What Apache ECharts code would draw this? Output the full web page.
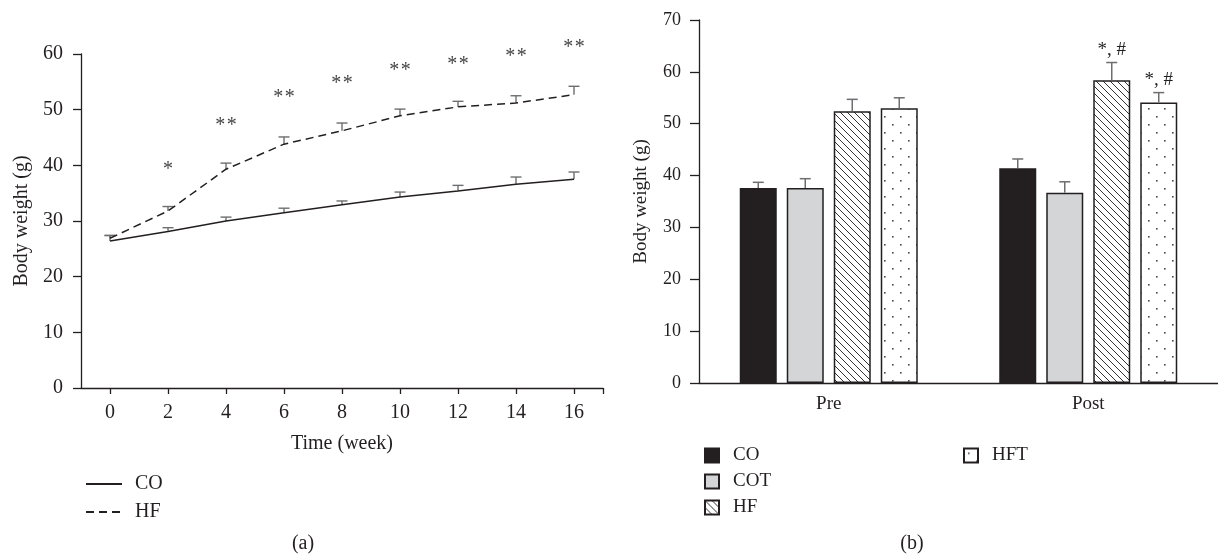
<!DOCTYPE html>
<html><head><meta charset="utf-8">
<script src="https://cdn.jsdelivr.net/npm/echarts@6/dist/echarts.min.js"></script>
<style>html,body{margin:0;padding:0;background:#fff}#c{width:1218px;height:556px}</style>
</head><body><div id="c"></div>
<script>
// ---- Panel (a) data ----
const weeks = [0, 2, 4, 6, 8, 10, 12, 14, 16];
const coMean = [26.4, 28.1, 30.0, 31.5, 32.9, 34.3, 35.4, 36.6, 37.5];
const coErr  = [1.0, 0.7, 0.7, 0.8, 0.7, 0.9, 1.0, 1.3, 1.3];
const hfMean = [26.9, 31.8, 39.3, 43.8, 46.2, 48.9, 50.5, 51.2, 52.7];
const hfErr  = [0.5, 0.8, 1.1, 1.3, 1.4, 1.2, 1.0, 1.3, 1.5];
const sigY    = [null, 40.0, 47.8, 52.8, 55.3, 57.7, 58.7, 60.3, 61.9];
const sigText = ['', '*', '**', '**', '**', '**', '**', '**', '**'];
const xTickLabels = [0, 2, 4, 6, 8, 10, 12, 14, 16];

// ---- Panel (b) data ----
const phases = ['Pre', 'Post'];
const groupNames = ['CO', 'COT', 'HF', 'HFT'];
const barCO  = [37.6, 41.4];
const barCOT = [37.6, 36.7];
const barHF  = [52.4, 58.4];
const barHFT = [53.0, 54.1];
const errCO  = [1.1, 1.8];
const errCOT = [1.8, 2.1];
const errHF  = [2.3, 3.4];
const errHFT = [2.0, 1.9];
const noteCO  = ['', ''];
const noteCOT = ['', ''];
const noteHF  = ['', '*, #'];
const noteHFT = ['', '*, #'];

const INK = '#231f20';
const ERR = '#6d6e71';
const FONT = '"Liberation Serif", "DejaVu Serif", serif';
const BAR_W = 37, BAR_GAP = 10;

function hatchPattern() {
  const c = document.createElement('canvas'); c.width = 7; c.height = 7;
  const g = c.getContext('2d');
  g.fillStyle = '#fff'; g.fillRect(0, 0, 7, 7);
  g.strokeStyle = '#333'; g.lineWidth = 1;
  g.beginPath();
  g.moveTo(-1, -1); g.lineTo(8, 8);
  g.moveTo(-8, -1); g.lineTo(1, 8);
  g.moveTo(6, -1); g.lineTo(15, 8);
  g.stroke();
  return { image: c, repeat: 'repeat' };
}
function dotPattern() {
  const c = document.createElement('canvas'); c.width = 16; c.height = 16;
  const g = c.getContext('2d');
  g.fillStyle = '#fff'; g.fillRect(0, 0, 16, 16);
  g.fillStyle = '#4a4a4a';
  g.fillRect(4, 4, 1.6, 1.6);
  g.fillRect(12, 12, 1.6, 1.6);
  return { image: c, repeat: 'repeat' };
}

const chart = echarts.init(document.getElementById('c'), null, { renderer: 'canvas' });

function lineErr(name, mean, err) {
  return {
    type: 'custom', name: name + '_err', xAxisIndex: 0, yAxisIndex: 0, z: 1, silent: true,
    data: weeks.map((w, i) => [w, mean[i], err[i]]),
    renderItem: (params, api) => {
      const x = api.value(0), m = api.value(1), e = api.value(2);
      const p0 = api.coord([x, m]), p1 = api.coord([x, m + e]);
      const st = { stroke: ERR, lineWidth: 1.4 };
      return { type: 'group', children: [
        { type: 'line', shape: { x1: p0[0], y1: p0[1], x2: p1[0], y2: p1[1] }, style: st },
        { type: 'line', shape: { x1: p1[0] - 5.5, y1: p1[1], x2: p1[0] + 5.5, y2: p1[1] }, style: st }
      ] };
    }
  };
}

function barErr(gi, mean, err, notes) {
  return {
    type: 'custom', name: groupNames[gi] + '_err', xAxisIndex: 1, yAxisIndex: 1, z: 3, silent: true,
    data: phases.map((p, i) => [i, mean[i], err[i], i]),
    renderItem: (params, api) => {
      const c = api.value(0), m = api.value(1), e = api.value(2), k = api.value(3);
      const off = (gi - 1.5) * (BAR_W + BAR_GAP);
      const p0 = api.coord([c, m]), p1 = api.coord([c, m + e]);
      const x = p0[0] + off;
      const st = { stroke: ERR, lineWidth: 1.5 };
      const ch = [
        { type: 'line', shape: { x1: x, y1: p0[1], x2: x, y2: p1[1] }, style: st },
        { type: 'line', shape: { x1: x - 5.5, y1: p1[1], x2: x + 5.5, y2: p1[1] }, style: st }
      ];
      if (notes[k]) ch.push({ type: 'text', x: x, y: p1[1] - 3,
        style: { text: notes[k], align: 'center', verticalAlign: 'bottom', font: '19px ' + FONT, fill: INK } });
      return { type: 'group', children: ch };
    }
  };
}

const barStyle = (fill) => ({ color: fill, borderColor: INK, borderWidth: 1.5 });
const gapPct = (BAR_GAP / BAR_W * 100) + '%';

const option = {
  animation: false,
  backgroundColor: '#fff',
  textStyle: { fontFamily: FONT, color: INK },
  grid: [
    { left: 81, top: 54, width: 522, height: 334 },
    { left: 699, top: 20, width: 519, height: 363 }
  ],
  xAxis: [
    { type: 'value', gridIndex: 0, min: -1, max: 17,
      name: 'Time (week)', nameLocation: 'middle', nameGap: 46,
      nameTextStyle: { fontSize: 20, fontFamily: FONT, color: INK },
      splitLine: { show: false },
      axisLine: { onZero: false, lineStyle: { color: INK, width: 1.3 } },
      axisTick: { customValues: [0, 2, 4, 6, 8, 10, 12, 14, 16, 17], length: 6, lineStyle: { color: INK, width: 1.3 } },
      axisLabel: { customValues: xTickLabels, fontSize: 20, fontFamily: FONT, color: INK, margin: 15 } },
    { type: 'category', gridIndex: 1, data: phases, boundaryGap: true,
      splitLine: { show: false },
      axisLine: { onZero: false, lineStyle: { color: INK, width: 1.3 } },
      axisTick: { length: 6, alignWithLabel: false, lineStyle: { color: INK, width: 1.3 } },
      axisLabel: { fontSize: 19, fontFamily: FONT, color: INK, margin: 12 } }
  ],
  yAxis: [
    { type: 'value', gridIndex: 0, min: 0, max: 60, interval: 10,
      name: 'Body weight (g)', nameLocation: 'middle', nameGap: 49,
      nameTextStyle: { fontSize: 20, fontFamily: FONT, color: INK },
      splitLine: { show: false },
      axisLine: { show: true, onZero: false, lineStyle: { color: INK, width: 1.3 } },
      axisTick: { show: true, length: 8, lineStyle: { color: INK, width: 1.3 } },
      axisLabel: { fontSize: 20, fontFamily: FONT, color: INK, margin: 18 } },
    { type: 'value', gridIndex: 1, min: 0, max: 70, interval: 10,
      name: 'Body weight (g)', nameLocation: 'middle', nameGap: 48,
      nameTextStyle: { fontSize: 19, fontFamily: FONT, color: INK },
      splitLine: { show: false },
      axisLine: { show: true, onZero: false, lineStyle: { color: INK, width: 1.3 } },
      axisTick: { show: true, length: 9, lineStyle: { color: INK, width: 1.3 } },
      axisLabel: { fontSize: 18, fontFamily: FONT, color: INK, margin: 18 } }
  ],
  legend: [
    { data: ['CO', 'HF'], orient: 'vertical', left: 80, top: 469, itemWidth: 36, itemHeight: 14, itemGap: 8,
      selectedMode: false, itemStyle: { opacity: 0 },
      textStyle: { fontSize: 20, lineHeight: 20, fontFamily: FONT, color: INK, padding: [0, 0, 0, 8] } },
    { data: ['CO_b', 'COT_b', 'HF_b'], orient: 'vertical', left: 699, top: 441, itemWidth: 14, itemHeight: 14, itemGap: 7,
      icon: 'rect', selectedMode: false, formatter: n => n.replace('_b', ''),
      textStyle: { fontSize: 19, lineHeight: 19, fontFamily: FONT, color: INK, padding: [0, 0, 0, 9] } },
    { data: ['HFT_b'], orient: 'vertical', left: 958, top: 441, itemWidth: 14, itemHeight: 14, itemGap: 7,
      icon: 'rect', selectedMode: false, formatter: n => n.replace('_b', ''),
      textStyle: { fontSize: 19, lineHeight: 19, fontFamily: FONT, color: INK, padding: [0, 0, 0, 9] } }
  ],
  graphic: [
    { type: 'text', x: 303, y: 544, style: { text: '(a)', align: 'center', verticalAlign: 'middle', font: '20px ' + FONT, fill: INK } },
    { type: 'text', x: 912, y: 544, style: { text: '(b)', align: 'center', verticalAlign: 'middle', font: '20px ' + FONT, fill: INK } }
  ],
  series: [
    lineErr('CO', coMean, coErr),
    lineErr('HF', hfMean, hfErr),
    { type: 'line', name: 'CO', xAxisIndex: 0, yAxisIndex: 0, z: 2, symbol: 'none',
      data: weeks.map((w, i) => [w, coMean[i]]),
      lineStyle: { color: INK, width: 1.5 }, itemStyle: { color: INK } },
    { type: 'line', name: 'HF', xAxisIndex: 0, yAxisIndex: 0, z: 2, symbol: 'none',
      data: weeks.map((w, i) => [w, hfMean[i]]),
      lineStyle: { color: INK, width: 1.5, type: [8, 5] }, itemStyle: { color: INK } },
    { type: 'custom', name: 'sig', xAxisIndex: 0, yAxisIndex: 0, silent: true, z: 2,
      data: weeks.map((w, i) => [w, sigY[i] == null ? 0 : sigY[i], i]).filter((d, i) => sigText[i]),
      renderItem: (params, api) => {
        const p = api.coord([api.value(0), api.value(1)]);
        return { type: 'text', x: p[0], y: p[1] + 4,
          style: { text: sigText[api.value(2)].split('').join('\u200a'), align: 'center', verticalAlign: 'middle', font: '20px ' + FONT, fill: '#444' } };
      } },
    { type: 'bar', name: 'CO_b', xAxisIndex: 1, yAxisIndex: 1, data: barCO, barWidth: BAR_W, barGap: gapPct,
      itemStyle: barStyle(INK) },
    { type: 'bar', name: 'COT_b', xAxisIndex: 1, yAxisIndex: 1, data: barCOT, barWidth: BAR_W, barGap: gapPct,
      itemStyle: barStyle('#d4d5d6') },
    { type: 'bar', name: 'HF_b', xAxisIndex: 1, yAxisIndex: 1, data: barHF, barWidth: BAR_W, barGap: gapPct,
      itemStyle: barStyle(hatchPattern()) },
    { type: 'bar', name: 'HFT_b', xAxisIndex: 1, yAxisIndex: 1, data: barHFT, barWidth: BAR_W, barGap: gapPct,
      itemStyle: barStyle(dotPattern()) },
    barErr(0, barCO, errCO, noteCO),
    barErr(1, barCOT, errCOT, noteCOT),
    barErr(2, barHF, errHF, noteHF),
    barErr(3, barHFT, errHFT, noteHFT)
  ]
};
chart.setOption(option);
</script>
</body></html>
